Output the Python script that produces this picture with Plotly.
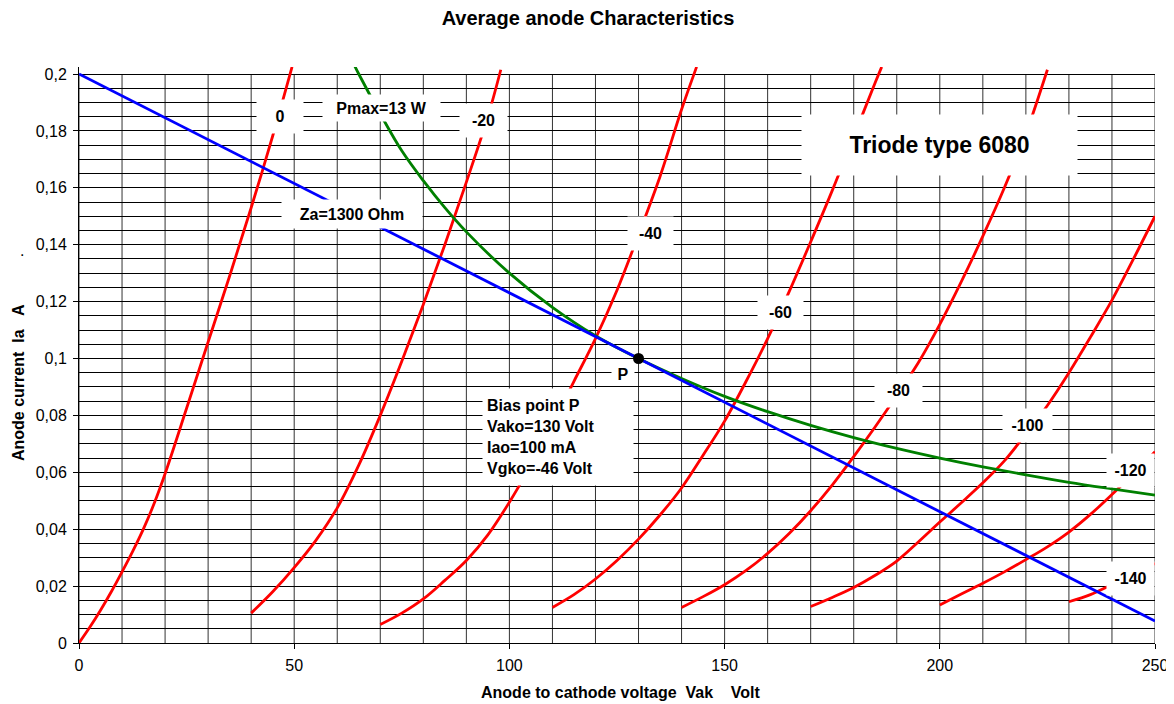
import plotly.graph_objects as go

# ---------------- data ----------------
v_g0 = [0, 2.5, 5, 7.5, 10, 12.5, 15, 17.5, 20, 25, 30, 35, 40, 45, 49.5]
ia_g0 = [0, 0.0055, 0.0115, 0.018, 0.025, 0.0323, 0.0402, 0.0492, 0.0595, 0.0825, 0.1058, 0.129, 0.153, 0.1782, 0.2025]

v_g20 = [40, 45, 50, 55, 60, 65, 70, 75, 80, 85, 90, 95, 98]
ia_g20 = [0.0105, 0.018, 0.0265, 0.036, 0.0475, 0.0625, 0.080, 0.099, 0.119, 0.140, 0.162, 0.185, 0.2015]

v_g40 = [70, 75, 80, 85, 90, 95, 100, 105, 110, 115, 120, 125, 130, 135, 140, 143.5]
ia_g40 = [0.0065, 0.0105, 0.0155, 0.022, 0.029, 0.038, 0.0495, 0.0625, 0.077, 0.092, 0.107, 0.124, 0.1435, 0.164, 0.1875, 0.2025]

v_g60 = [110, 115, 120, 125, 130, 135, 140, 145, 150, 155, 160, 165, 170, 175, 180, 185, 186.5]
ia_g60 = [0.0125, 0.017, 0.0225, 0.029, 0.0365, 0.045, 0.0545, 0.066, 0.078, 0.092, 0.107, 0.1235, 0.141, 0.159, 0.178, 0.197, 0.2025]

v_g80 = [140, 145, 150, 155, 160, 165, 170, 175, 180, 185, 190, 195, 200, 205, 210, 215, 220, 225]
ia_g80 = [0.0125, 0.0163, 0.0205, 0.0255, 0.0315, 0.0385, 0.0465, 0.0555, 0.0655, 0.076, 0.087, 0.0985, 0.112, 0.127, 0.143, 0.160, 0.179, 0.2015]

v_g100 = [170, 175, 180, 185, 190, 195, 200, 205, 210, 215, 220, 225, 230, 235, 240, 245, 250]
ia_g100 = [0.0128, 0.016, 0.0195, 0.0238, 0.0288, 0.0355, 0.0425, 0.0493, 0.0563, 0.064, 0.0735, 0.0835, 0.095, 0.1075, 0.1205, 0.135, 0.150]

v_g120 = [200, 205, 210, 215, 220, 225, 230, 235, 240, 245, 250]
ia_g120 = [0.0134, 0.0172, 0.021, 0.025, 0.0293, 0.0338, 0.039, 0.0452, 0.0522, 0.0596, 0.0672]

v_g140 = [230, 235, 240, 245, 250]
ia_g140 = [0.0145, 0.017, 0.0205, 0.024, 0.028]

v_pmax = [64, 65, 70, 75, 80, 85, 90, 100, 110, 120, 130, 140, 150, 160, 170, 180, 190, 200, 210, 220, 230, 240, 250]
ia_pmax = [0.203, 0.2, 0.186, 0.173, 0.1625, 0.153, 0.1445, 0.130, 0.118, 0.108, 0.100, 0.093, 0.0867,
           0.0813, 0.0765, 0.0722, 0.0684, 0.065, 0.0619, 0.0591, 0.0565, 0.0542, 0.052]

v_load = [0, 250]
ia_load = [0.2, 0.0077]

v_bias = [130]
ia_bias = [0.1]

x_tickvals = [0, 50, 100, 150, 200, 250]
x_ticktext = ["0", "50", "100", "150", "200", "250"]
y_tickvals = [0, 0.02, 0.04, 0.06, 0.08, 0.1, 0.12, 0.14, 0.16, 0.18, 0.2]
y_ticktext = ["0", "0,02", "0,04", "0,06", "0,08", "0,1", "0,12", "0,14", "0,16", "0,18", "0,2"]
grid_v = list(range(0, 251, 10))

grid_labels = ["0", "-20", "-40", "-60", "-80", "-100", "-120", "-140"]
grid_label_x = [46.7, 93.9, 132.7, 163.1, 190.3, 220.3, 244.4, 244.4]
grid_label_y = [0.1851, 0.1837, 0.1438, 0.1163, 0.0886, 0.0766, 0.0605, 0.0228]
grid_label_w = [46, 47, 45, 45, 47, 49, 47, 47]

FONT = "Liberation Sans, Arial, sans-serif"

# page offset (browser body margin) compensation
OFF = 8
W, H = 1174 - OFF, 704 - OFF
ML, MR, MT, MB = 79 - OFF, 19, 67 - OFF, 61
PW, PH = 1076, 576

fig = go.Figure()

red_curves = [(v_g0, ia_g0), (v_g20, ia_g20), (v_g40, ia_g40), (v_g60, ia_g60),
              (v_g80, ia_g80), (v_g100, ia_g100), (v_g120, ia_g120), (v_g140, ia_g140)]
for (vx, iy), name in zip(red_curves, grid_labels):
    fig.add_trace(go.Scatter(x=vx, y=iy, mode="lines", name=name,
                             line=dict(color="#ff0000", width=2.8, shape="spline", smoothing=1.0),
                             showlegend=False, hoverinfo="skip"))

fig.add_trace(go.Scatter(x=v_pmax, y=ia_pmax, mode="lines", name="Pmax",
                         line=dict(color="#008000", width=2.8, shape="spline", smoothing=1.0),
                         showlegend=False))
fig.add_trace(go.Scatter(x=v_load, y=ia_load, mode="lines", name="Za",
                         line=dict(color="#0000ff", width=2.8), showlegend=False))
fig.add_trace(go.Scatter(x=v_bias, y=ia_bias, mode="markers", name="P",
                         marker=dict(color="black", size=11), showlegend=False, cliponaxis=False))

shapes = []
for gv in grid_v:
    shapes.append(dict(type="line", xref="x", yref="y", x0=gv, x1=gv, y0=0, y1=0.2,
                       line=dict(color="#333333", width=1), layer="below"))

annotations = []
for t, ax_, ay_, w in zip(grid_labels, grid_label_x, grid_label_y, grid_label_w):
    annotations.append(dict(x=ax_, y=ay_, xref="x", yref="y", text=t, showarrow=False,
                            font=dict(family=FONT, size=16, color="black", weight="bold"),
                            bgcolor="white", width=w, height=33, borderpad=0))

annotations += [
    dict(x=70.2, y=0.1880, xref="x", yref="y", text="Pmax=13 W", showarrow=False,
         font=dict(family=FONT, size=16, color="black", weight="bold"),
         bgcolor="white", width=117, height=26, borderpad=0),
    dict(x=63.4, y=0.1508, xref="x", yref="y", text="Za=1300 Ohm", showarrow=False,
         font=dict(family=FONT, size=16, color="black", weight="bold"),
         bgcolor="white", width=140, height=28, borderpad=0),
    dict(x=200.0, y=0.1750, xref="x", yref="y", text="Triode type 6080", showarrow=False,
         font=dict(family=FONT, size=23, color="black", weight="bold"),
         bgcolor="white", width=275, height=60, borderpad=0),
    dict(x=126.4, y=0.0946, xref="x", yref="y", text="P", showarrow=False,
         font=dict(family=FONT, size=16, color="black", weight="bold"),
         bgcolor="white", width=22, height=18, borderpad=0),
    dict(x=111.3, y=0.0724, xref="x", yref="y",
         text="Bias point P<br>Vako=130 Volt<br>Iao=100 mA<br>Vgko=-46 Volt",
         showarrow=False, align="left",
         font=dict(family=FONT, size=16, color="black", weight="bold"),
         bgcolor="white", width=142, height=88, borderpad=4),
    # axis titles
    dict(x=(621 - 79) / PW, y=-49 / PH, xref="paper", yref="paper",
         xanchor="center", yanchor="middle",
         text="Anode to cathode voltage\u00a0\u00a0Vak\u00a0\u00a0\u00a0\u00a0Volt",
         showarrow=False, font=dict(family=FONT, size=16, color="black", weight="bold")),
    dict(x=(18 - 79) / PW, y=(643 - 383) / PH, xref="paper", yref="paper",
         xanchor="center", yanchor="middle",
         text="Anode current\u00a0\u00a0Ia\u00a0\u00a0\u00a0A", textangle=-90,
         showarrow=False, font=dict(family=FONT, size=16, color="black", weight="bold")),
    dict(x=(22 - 79) / PW, y=(643 - 250) / PH, xref="paper", yref="paper",
         xanchor="center", yanchor="middle",
         text=".", showarrow=False, font=dict(family=FONT, size=16, color="black")),
]

fig.update_layout(
    width=W, height=H,
    margin=dict(l=ML, r=MR, t=MT, b=MB, pad=0, autoexpand=False),
    paper_bgcolor="white", plot_bgcolor="white",
    title=dict(text="Average anode Characteristics", x=(588 - OFF) / W, xanchor="center",
               y=1 - (18 - OFF) / H, yanchor="middle",
               font=dict(family=FONT, size=20, color="black", weight="bold")),
    font=dict(family=FONT, size=16, color="black"),
    shapes=shapes,
    annotations=annotations,
    showlegend=False,
)

fig.update_xaxes(range=[0, 250], tickvals=x_tickvals, ticktext=x_ticktext,
                 showgrid=False, zeroline=False, showline=True, linecolor="black", linewidth=1,
                 ticks="outside", ticklen=5, tickcolor="black", ticklabelstandoff=3,
                 tickfont=dict(family=FONT, size=16, color="black"))
fig.update_yaxes(range=[0, 0.2 * PH / 569], tickvals=y_tickvals, ticktext=y_ticktext,
                 showgrid=True, gridcolor="black", gridwidth=1,
                 minor=dict(dtick=0.005, tick0=0, showgrid=True, gridcolor="black", gridwidth=1),
                 zeroline=False, showline=True, linecolor="black", linewidth=1,
                 ticks="outside", ticklen=5, tickcolor="black", ticklabelstandoff=3,
                 tickfont=dict(family=FONT, size=16, color="black"))

fig.write_html("out.html")
